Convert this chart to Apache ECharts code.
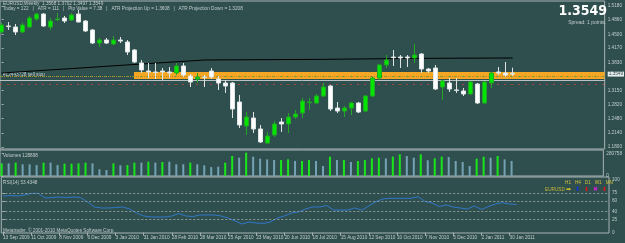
<!DOCTYPE html>
<html>
<head>
<meta charset="utf-8">
<script src="https://cdn.jsdelivr.net/npm/echarts@6/dist/echarts.min.js"></script>
<style>
  html, body { margin: 0; padding: 0; background: #2f4f4f; }
  #chart { width: 625px; height: 243px; }
</style>
</head>
<body>
<div id="chart"></div>
<script>
// weekly EURUSD bars, first bar = week of 13 Sep 2009
const dateLabels = ['13 Sep 2009', '11 Oct 2009', '8 Nov 2009', '6 Dec 2009', '3 Jan 2010', '31 Jan 2010',
  '28 Feb 2010', '28 Mar 2010', '25 Apr 2010', '23 May 2010', '20 Jun 2010', '18 Jul 2010', '15 Aug 2010',
  '12 Sep 2010', '10 Oct 2010', '7 Nov 2010', '5 Dec 2010', '2 Jan 2011', '30 Jan 2011'];

// open, high, low, close
const ohlc = [
  [1.4557, 1.4780, 1.4520, 1.4725], [1.4701, 1.4796, 1.4605, 1.4686], [1.4677, 1.4749, 1.4485, 1.4557],
  [1.4557, 1.4780, 1.4526, 1.4725], [1.4677, 1.4940, 1.4653, 1.4892], [1.4868, 1.5019, 1.4828, 1.4988],
  [1.4988, 1.5012, 1.4677, 1.4701], [1.4677, 1.4892, 1.4605, 1.4820], [1.4852, 1.5012, 1.4820, 1.4868],
  [1.4892, 1.4940, 1.4772, 1.4820], [1.4844, 1.5012, 1.4820, 1.4964], [1.4988, 1.5084, 1.4790, 1.4796],
  [1.4820, 1.4844, 1.4557, 1.4581], [1.4605, 1.4629, 1.4269, 1.4293], [1.4293, 1.4413, 1.4197, 1.4365],
  [1.4365, 1.4413, 1.4269, 1.4293], [1.4269, 1.4461, 1.4245, 1.4365], [1.4365, 1.4437, 1.4293, 1.4341],
  [1.4317, 1.4365, 1.4005, 1.4077], [1.4125, 1.4149, 1.3814, 1.3838], [1.3814, 1.3886, 1.3574, 1.3646],
  [1.3622, 1.3814, 1.3454, 1.3598], [1.3598, 1.3814, 1.3430, 1.3586], [1.3622, 1.3694, 1.3406, 1.3598],
  [1.3598, 1.3718, 1.3454, 1.3574], [1.3574, 1.3814, 1.3526, 1.3742], [1.3742, 1.3814, 1.3478, 1.3526],
  [1.3502, 1.3550, 1.3238, 1.3358], [1.3430, 1.3574, 1.3334, 1.3478], [1.3478, 1.3526, 1.3238, 1.3466],
  [1.3622, 1.3694, 1.3430, 1.3478], [1.3430, 1.3502, 1.3167, 1.3334], [1.3334, 1.3406, 1.3095, 1.3262],
  [1.3334, 1.3358, 1.2495, 1.2711], [1.2879, 1.3047, 1.2256, 1.2328], [1.2304, 1.2639, 1.2088, 1.2519],
  [1.2495, 1.2639, 1.2136, 1.2232], [1.2232, 1.2328, 1.1896, 1.1920], [1.1896, 1.2160, 1.1876, 1.2064],
  [1.2088, 1.2423, 1.2040, 1.2352], [1.2399, 1.2495, 1.2160, 1.2352], [1.2352, 1.2615, 1.2136, 1.2519],
  [1.2519, 1.2687, 1.2471, 1.2591], [1.2615, 1.2975, 1.2495, 1.2903], [1.2862, 1.2975, 1.2687, 1.2879],
  [1.2855, 1.3071, 1.2831, 1.3023], [1.3023, 1.3334, 1.2999, 1.3238], [1.3262, 1.3286, 1.2663, 1.2711],
  [1.2735, 1.2879, 1.2615, 1.2663], [1.2663, 1.2783, 1.2519, 1.2735], [1.2735, 1.2879, 1.2567, 1.2855],
  [1.2855, 1.2879, 1.2615, 1.2639], [1.2663, 1.3047, 1.2639, 1.3023], [1.3023, 1.3478, 1.2999, 1.3454],
  [1.3454, 1.3790, 1.3406, 1.3766], [1.3766, 1.4005, 1.3694, 1.3886], [1.3957, 1.4125, 1.3742, 1.3941],
  [1.3957, 1.4005, 1.3694, 1.3934], [1.3957, 1.4005, 1.3718, 1.3934], [1.3934, 1.4269, 1.3814, 1.4005],
  [1.4029, 1.4053, 1.3574, 1.3670], [1.3670, 1.3694, 1.3574, 1.3622], [1.3694, 1.3766, 1.3167, 1.3190],
  [1.3238, 1.3406, 1.2927, 1.3382], [1.3334, 1.3454, 1.3119, 1.3190], [1.3167, 1.3454, 1.3095, 1.3155],
  [1.3143, 1.3214, 1.3023, 1.3071], [1.3071, 1.3382, 1.3047, 1.3358], [1.3310, 1.3334, 1.2831, 1.2855],
  [1.2855, 1.3382, 1.2831, 1.3358], [1.3334, 1.3598, 1.3214, 1.3574], [1.3598, 1.3718, 1.3526, 1.3574],
  [1.3574, 1.3838, 1.3478, 1.3526], [1.3568, 1.3702, 1.3497, 1.3549]
];

// black average line, read at a few bars
const maBars = [0, 10, 20, 29, 45, 60, 73];
const maValues = [1.3574, 1.3680, 1.3790, 1.3886, 1.3900, 1.3925, 1.3934];

const volumes = [158000, 158000, 167000, 146000, 146000, 137000, 167000, 167000, 137000, 154000,
  154000, 158000, 167000, 158000, 83000, 75000, 158000, 133000, 137000, 167000,
  167000, 179000, 167000, 175000, 179000, 146000, 146000, 167000, 146000, 133000,
  112000, 117000, 167000, 250000, 229000, 292000, 242000, 217000, 208000, 200000,
  200000, 208000, 188000, 188000, 200000, 188000, 125000, 242000, 200000, 200000,
  175000, 188000, 200000, 221000, 229000, 221000, 242000, 271000, 250000, 229000,
  271000, 196000, 221000, 242000, 237000, 188000, 175000, 125000, 217000, 242000,
  229000, 250000, 208000, 188000];
// 1 = volume bar drawn green, 0 = drawn blue
const volumeUp = [1, 0, 1, 0, 0, 0, 1, 0, 0, 1, 1, 1, 1, 0, 0, 0, 1, 0, 1, 1,
  0, 1, 0, 1, 0, 0, 0, 1, 0, 0, 0, 0, 1, 1, 0, 1, 0, 0, 0, 0,
  1, 1, 0, 1, 1, 0, 0, 1, 0, 1, 0, 1, 1, 1, 1, 0, 1, 1, 0, 0,
  1, 0, 1, 1, 0, 0, 0, 0, 1, 1, 0, 1, 0, 0];

const rsi = [69.6, 70.6, 69.6, 71.5, 74.4, 74.8, 65.8, 66.8, 67.7, 66.8,
  67.7, 66.8, 58.3, 48.8, 46.9, 46.9, 47.8, 48.8, 45.0, 37.4,
  31.7, 29.8, 29.8, 29.8, 31.7, 36.4, 31.7, 30.7, 33.6, 33.6,
  33.6, 31.7, 27.9, 22.2, 16.5, 20.3, 18.4, 17.5, 20.3, 27.9,
  31.7, 37.4, 39.3, 45.0, 48.8, 48.8, 51.6, 43.0, 43.0, 43.0,
  46.9, 43.0, 50.7, 58.8, 64.0, 65.3, 65.3, 65.3, 65.3, 68.3,
  59.2, 56.4, 49.7, 52.6, 48.8, 46.9, 45.0, 50.7, 44.0, 49.7,
  54.5, 56.9, 54.5, 53.4];

const priceTicks = [1.5180, 1.4860, 1.4500, 1.4170, 1.3830, 1.3150, 1.2820, 1.2480, 1.2140, 1.1800];
const volumeTicks = [0, 280758];
const rsiTicks = [0, 25, 40, 60, 75, 100];
const rsiLevels = [75, 60, 40, 25];

const bidPrice = 1.3549;
const sellStop = 1.3500;
const zoneTop = 1.3598, zoneBottom = 1.3430, zoneStartBar = 18.9;
const greenLevel = 1.3469, grayLevel = 1.3390, redLevel = 1.3342;

const TXT = '#c3cccc';
const FONT = 'Liberation Sans';
const FS = 4.7;
const xMin = -0.24, xMax = 86.14;

const chart = echarts.init(document.getElementById('chart'));

function xAxisFor(gridIndex, withDates) {
  const ax = {
    type: 'value', gridIndex: gridIndex, min: xMin, max: xMax,
    axisLine: { show: false }, axisTick: { show: false }, axisLabel: { show: false }, splitLine: { show: false }
  };
  if (withDates) {
    const tickBars = dateLabels.map((d, k) => k * 4);
    ax.axisTick = { show: true, customValues: tickBars, length: 3, lineStyle: { color: '#a9b3b3' } };
    ax.axisLabel = {
      show: true, customValues: tickBars, align: 'left', margin: 2,
      color: TXT, fontSize: FS, fontFamily: FONT,
      formatter: v => dateLabels[Math.round(v / 4)]
    };
  }
  return ax;
}

function yAxisFor(gridIndex, min, max, ticks, fmt) {
  return {
    type: 'value', gridIndex: gridIndex, position: 'right', min: min, max: max, scale: true,
    axisLine: { show: false }, splitLine: { show: false },
    axisTick: { show: true, customValues: ticks, length: 2, lineStyle: { color: '#a9b3b3' } },
    axisLabel: { customValues: ticks, formatter: fmt, color: TXT, fontSize: FS, fontFamily: FONT, margin: 3 }
  };
}

const gridStyle = { show: true, borderColor: '#a9b3b3', borderWidth: 1, backgroundColor: 'transparent' };

function hLine(value, color, type, width) {
  return { yAxis: value, lineStyle: { color: color, type: type, width: width || 1 } };
}

chart.setOption({
  backgroundColor: '#2f4f4f',
  animation: false,
  grid: [
    Object.assign({ left: 0, right: 16, top: 1, height: 148 }, gridStyle),
    Object.assign({ left: 0, right: 16, top: 150, height: 26 }, gridStyle),
    Object.assign({ left: 0, right: 16, top: 177, height: 56 }, gridStyle)
  ],
  xAxis: [xAxisFor(0, false), xAxisFor(1, false), xAxisFor(2, true)],
  yAxis: [
    yAxisFor(0, 1.17521, 1.52999, priceTicks, v => v.toFixed(4)),
    yAxisFor(1, 0, 325000, volumeTicks, v => String(v)),
    yAxisFor(2, -0.57, 105.7, rsiTicks, v => String(v))
  ],
  series: [
    {
      // zone and horizontal levels, drawn behind the candles
      type: 'line', xAxisIndex: 0, yAxisIndex: 0, data: [], z: 1, silent: true,
      markArea: {
        silent: true,
        itemStyle: { color: '#f5a623' },
        data: [[{ xAxis: zoneStartBar, yAxis: zoneTop }, { xAxis: xMax, yAxis: zoneBottom }]]
      },
      markLine: {
        silent: true, symbol: ['none', 'none'],
        label: { show: false },
        data: [
          hLine(sellStop, '#aab2b2', 'dotted'),
          hLine(greenLevel, '#3fa83f', [2, 5]),
          hLine(grayLevel, '#b9c1c1', 'solid'),
          hLine(redLevel, '#a8483f', [2, 5]),
          {
            yAxis: bidPrice, lineStyle: { color: '#b88a30', type: 'dotted', width: 1 },
            label: { show: true, position: 'end', distance: 3, formatter: bidPrice.toFixed(4), fontSize: FS,
              fontFamily: FONT, color: '#2f4f4f', backgroundColor: '#e8ecec', padding: [0, 1], offset: [0, -2] }
          },
          {
            yAxis: sellStop, lineStyle: { opacity: 0 },
            label: { show: true, position: 'end', distance: 3, formatter: sellStop.toFixed(4), fontSize: FS,
              fontFamily: FONT, color: '#2f4f4f', backgroundColor: '#c9d0d0', padding: [0, 1], offset: [0, 2] }
          }
        ]
      }
    },
    {
      type: 'line', xAxisIndex: 0, yAxisIndex: 0, z: 3,
      data: maBars.map((b, k) => [b, maValues[k]]),
      showSymbol: false, lineStyle: { color: '#000000', width: 1 }
    },
    {
      type: 'candlestick', xAxisIndex: 0, yAxisIndex: 0, z: 5, barWidth: 5,
      encode: { x: 0, y: [1, 2, 3, 4] },
      data: ohlc.map((d, i) => [i, d[0], d[3], d[2], d[1]]),
      itemStyle: { color: '#00e600', color0: '#ffffff', borderColor: '#22a822', borderColor0: '#dfe4e4', borderWidth: 1 }
    },
    {
      type: 'bar', xAxisIndex: 1, yAxisIndex: 1, barWidth: 2,
      data: volumes.map((v, i) => ({ value: [i, v], itemStyle: { color: volumeUp[i] ? '#19e619' : '#74a2b4' } }))
    },
    {
      type: 'line', xAxisIndex: 2, yAxisIndex: 2,
      data: rsi.map((v, i) => [i, v]),
      showSymbol: false, lineStyle: { color: '#2f78c8', width: 1 },
      markLine: {
        silent: true, symbol: ['none', 'none'], label: { show: false },
        data: rsiLevels.map(v => hLine(v, '#8c9c9c', [2, 2]))
      }
    }
  ],
  graphic: [
    { type: 'text', x: 3, y: 1, style: { text: 'EURUSD,Weekly  1.3568 1.3702 1.3497 1.3549', fill: TXT, font: FS + 'px ' + FONT } },
    { type: 'text', x: 3, y: 6.5, style: { text: 'Today = 122   |   ATR = 111   |   Pip Value = 7.38   |   ATR Projection Up = 1.3608   |   ATR Projection Down = 1.3208', fill: TXT, font: FS + 'px ' + FONT } },
    { type: 'text', x: 607, y: 4, style: { text: '1.3549', fill: '#ffffff', font: 'bold 14px "Liberation Sans Narrow", "DejaVu Sans Condensed", sans-serif', align: 'right' } },
    { type: 'text', x: 606, y: 20.5, style: { text: 'Spread: 1 points.', fill: TXT, font: '5px ' + FONT, align: 'right' } },
    { type: 'text', x: 3, y: 72.5, style: { text: '#12443728 sell stop', fill: TXT, font: FS + 'px ' + FONT } },
    { type: 'text', x: 3, y: 153, style: { text: 'Volumes 128898', fill: TXT, font: FS + 'px ' + FONT } },
    { type: 'text', x: 3, y: 180, style: { text: 'RSI(14) 53.4348', fill: TXT, font: FS + 'px ' + FONT } },
    { type: 'text', x: 3, y: 228.5, style: { text: 'Metatrader, \u00a9 2001-2010 MetaQuotes Software Corp.', fill: TXT, font: FS + 'px ' + FONT } },
    { type: 'text', x: 565, y: 180.5, style: { text: 'H1   H4   D1   W1   MN', fill: '#d4c23a', font: FS + 'px ' + FONT } },
    { type: 'text', x: 545, y: 187, style: { text: 'EURUSD', fill: '#c8b832', font: FS + 'px ' + FONT } },
    { type: 'text', x: 566, y: 186, style: { text: '\u27a1', fill: '#f0d020', font: '6px "DejaVu Sans"' } },
    { type: 'text', x: 575, y: 186, style: { text: '\u2b06', fill: '#1030e0', font: '6px "DejaVu Sans"' } },
    { type: 'text', x: 584, y: 186, style: { text: '\u2b07', fill: '#e81010', font: '6px "DejaVu Sans"' } },
    { type: 'text', x: 593, y: 186, style: { text: '\u2716', fill: '#d020d0', font: '6px "DejaVu Sans"' } },
    { type: 'text', x: 602, y: 186, style: { text: '\u2b07', fill: '#e81010', font: '6px "DejaVu Sans"' } }
  ]
});
</script>
</body>
</html>
